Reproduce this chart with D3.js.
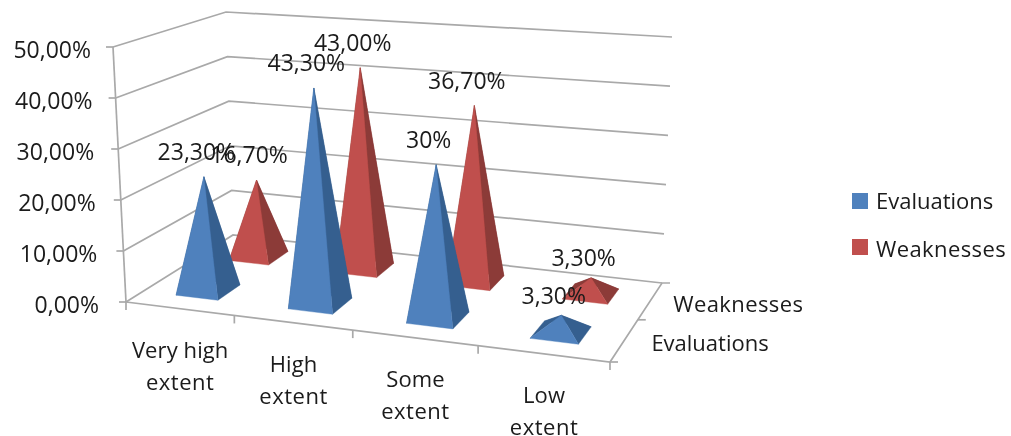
<!DOCTYPE html>
<html>
<head>
<meta charset="utf-8">
<script src="https://cdnjs.cloudflare.com/ajax/libs/d3/7.8.5/d3.min.js"></script>
<style>
html,body{margin:0;padding:0;background:#fff;overflow:hidden}
text{font-family:"Open Sans",sans-serif;fill:#1a1a1a}
</style>
</head>
<body>
<svg id="chart" width="1011" height="436"></svg>
<script>
// ---- data ----
const categories = [["Very high","extent"],["High","extent"],["Some","extent"],["Low","extent"]];
const seriesNames = ["Evaluations","Weaknesses"];
const evaluations = [23.3,43.3,30,3.3];
const weaknesses = [16.7,43.0,36.7,3.3];
const evaluationLabels = ["23,30%","43,30%","30%","3,30%"];
const weaknessLabels = ["16,70%","43,00%","36,70%","3,30%"];
const valueTicks = [0,10,20,30,40,50];
const valueTickLabels = ["0,00%","10,00%","20,00%","30,00%","40,00%","50,00%"];
const seriesColors = ["#4f81bd","#c0504d"];
const sideColors = ["#365f8f","#8c3a38"];

// ---- projection: box corners on screen (FL, FR, BR, BL) ----
const floorQuad = [[126,302],[610,362],[662,283],[233,235]];
const topQuad   = [[113,47],[621,82],[672,37],[226,12]];
function homography(q){
  const [x0,y0]=q[0],[x1,y1]=q[1],[x2,y2]=q[2],[x3,y3]=q[3];
  const dx1=x1-x2,dx2=x3-x2,sx=x0-x1+x2-x3,dy1=y1-y2,dy2=y3-y2,sy=y0-y1+y2-y3;
  const D=dx1*dy2-dx2*dy1,g=(sx*dy2-dx2*sy)/D,h=(dx1*sy-sx*dy1)/D;
  const a=x1-x0+g*x1,b=x3-x0+h*x3,d=y1-y0+g*y1,e=y3-y0+h*y3;
  return (u,v)=>{const w=g*u+h*v+1;return [(a*u+b*v+x0)/w,(d*u+e*v+y0)/w];};
}
const Hfloor=homography(floorQuad),Htop=homography(topQuad);
const hScale=d3.scaleLinear().domain([0,50]).range([0,1]);
const markHeight=d3.scaleLinear().domain([0,50]).range([0,48.75]);
const uScale=d3.scaleBand().domain(d3.range(4)).range([0,1]);
const vScale=d3.scaleBand().domain(d3.range(2)).range([0,1]);
const floorWarp=d3.scalePow().exponent(1.02).domain([0,1]).range([0,1]);
const tickWarp=d3.scalePow().exponent(1.04).domain([0,1]).range([0,1]);
function P(u,v,val,warp){
  const a=Hfloor(warp?warp(u):u,v),b=Htop(u,v),t=hScale(val);
  return [a[0]+(b[0]-a[0])*t,a[1]+(b[1]-a[1])*t];
}

const svg=d3.select("#chart");
const defs=svg.append("defs");
defs.append("filter").attr("id","soft").attr("x","-5%").attr("y","-5%").attr("width","110%").attr("height","110%")
  .append("feGaussianBlur").attr("stdDeviation",0.55);
const root=svg.append("g").attr("filter","url(#soft)");
const line=d3.line();
const grid=root.append("g").attr("fill","none").attr("stroke","#a9a9a9").attr("stroke-width",1.7);

// walls
valueTicks.forEach(t=>{
  grid.append("path").attr("d",line([P(0,0,t),P(0,1,t),P(1,1,t)]));
  const p=P(0,0,t);
  grid.append("path").attr("d",line([[p[0]-7,p[1]],p]));
});
grid.append("path").attr("d",line([P(0,0,0),P(0,0,50)]));
// floor edges
grid.append("path").attr("d",line([P(0,0,0),P(1,0,0),P(1,1,0),[P(1,1,0)[0]+8,P(1,1,0)[1]]]));
// category ticks
d3.range(0,5).forEach(i=>{
  const p=P(i/4,0,0,tickWarp);
  grid.append("path").attr("d",line([p,[p[0],p[1]+8]]));
});
// depth ticks
[0,0.5].forEach(v=>{
  const p=P(1,v,0);
  grid.append("path").attr("d",line([p,[p[0]+8,p[1]]]));
});

// pyramids: back series first
const halfU=uScale.bandwidth()*0.19, halfV=vScale.bandwidth()*0.21;
const poly=(g,pts,fill)=>g.append("path").attr("d",line(pts)+"Z").attr("fill",fill).attr("stroke",fill).attr("stroke-width",0.4);
const seriesValues=[evaluations,weaknesses], seriesLabels=[evaluationLabels,weaknessLabels];
const apexes=[];
[1,0].forEach(s=>{
  const g=root.append("g");
  seriesValues[s].forEach((val,i)=>{
    const cu=uScale(i)+uScale.bandwidth()/2, cv=vScale(s)+vScale.bandwidth()/2;
    const base=(du,dv)=>P(cu+du,cv+dv,0,floorWarp);
    const fl=base(-halfU,-halfV),fr=base(halfU,-halfV),br=base(halfU,halfV),bl=base(-halfU,halfV),ap=P(cu,cv,markHeight(val),floorWarp);
    poly(g,[bl,br,ap],sideColors[s]);
    poly(g,[fl,bl,ap],sideColors[s]);
    poly(g,[fr,br,ap],sideColors[s]);
    poly(g,[fl,fr,ap],seriesColors[s]);
    apexes.push({ap,text:seriesLabels[s][i],val});
  });
});

// ---- text ----
const T=root.append("g").attr("font-size",22);
apexes.forEach(d=>{
  T.append("text").attr("x",d.ap[0]-7.5).attr("y",d.ap[1]-(d.val<5?11.5:17)).attr("text-anchor","middle").attr("font-size",23).text(d.text);
});
valueTicks.forEach((t,i)=>{
  const p=P(0,0,t);
  T.append("text").attr("x",p[0]-22-5*(1-hScale(t))).attr("y",p[1]+11).attr("text-anchor","end").attr("font-size",23).text(valueTickLabels[i]);
});
categories.forEach((c,i)=>{
  const a=P(i/4,0,0,tickWarp),b=P((i+1)/4,0,0,tickWarp),x=(a[0]+b[0])/2,y=(a[1]+b[1])/2;
  c.forEach((s,k)=>T.append("text").attr("x",x).attr("y",y+49+k*32).attr("text-anchor","middle").attr("letter-spacing",k?0.5:0.1).text(s));
});
const depthDx=[27,23];
seriesNames.forEach((n,s)=>{
  const p=P(1,vScale(s)+vScale.bandwidth()/2,0);
  T.append("text").attr("x",p[0]+depthDx[s]).attr("y",p[1]+11).attr("letter-spacing",s?0.4:0).text(n);
});
// legend
const legendY=d3.scalePoint().domain(seriesNames).range([193,239]);
const legendTextY=d3.scalePoint().domain(seriesNames).range([209,257]);
seriesNames.forEach((n,s)=>{
  root.append("rect").attr("x",852).attr("y",legendY(n)).attr("width",16).attr("height",16).attr("fill",seriesColors[s]);
  T.append("text").attr("x",876).attr("y",legendTextY(n)).attr("letter-spacing",s?0.4:0).text(n);
});
</script>
</body>
</html>
